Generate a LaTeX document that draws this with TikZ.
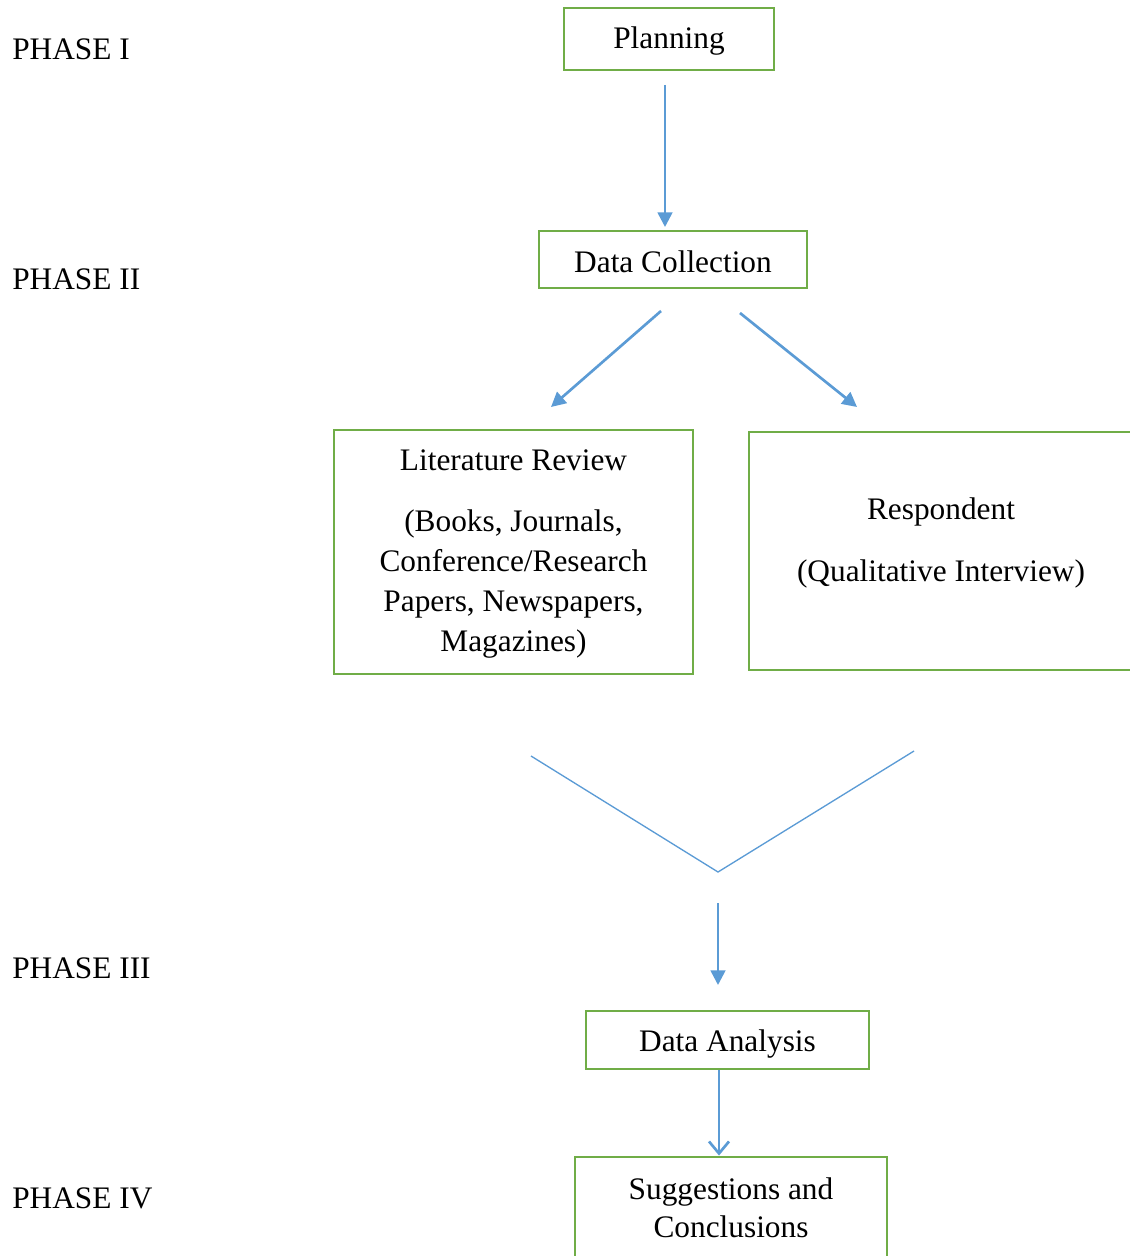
\documentclass[tikz,border=0pt]{standalone}
\usepackage{fontspec}
\setmainfont{Liberation Serif}
\usetikzlibrary{arrows.meta}
\definecolor{boxgreen}{HTML}{70AD47}
\definecolor{arrblue}{HTML}{5B9BD5}
\begin{document}
\begin{tikzpicture}[x=0.75pt,y=-0.75pt,
  every node/.style={font=\fontsize{23.5}{30}\selectfont},
  stepbox/.style={draw=boxgreen,line width=2.2pt,inner sep=0pt,fill=none},
  txt/.style={inner sep=0pt,align=center},
  phase/.style={inner sep=0pt,anchor=west},
  flow/.style={draw=arrblue,line width=2pt,-{Triangle[length=11pt,width=11pt]}},
  openflow/.style={draw=arrblue,line width=2pt,-{Straight Barb[length=9pt,width=15pt,line width=2pt]}},
  vline/.style={draw=arrblue,line width=1pt}]
\useasboundingbox (0,0) rectangle (1130,1256);
\clip (0,0) rectangle (1130,1256);

% phase labels
\node[phase] (p1) at (12,49) {PHASE I};
\node[phase] (p2) at (12,279) {PHASE II};
\node[phase] (p3) at (12,968) {PHASE III};
\node[phase] (p4) at (12,1198) {PHASE IV};

% boxes
\node[stepbox,minimum width=210*0.75pt,minimum height=62*0.75pt] (plan) at (669,39) {};
\node[txt] (plantext) at (669,41) {Planning};
\node[stepbox,minimum width=268*0.75pt,minimum height=57*0.75pt] (dc) at (673,259.5) {};
\node[txt] (dctext) at (673,261.5) {Data Collection};
\node[stepbox,minimum width=359*0.75pt,minimum height=244*0.75pt] (lit) at (513.5,552) {};
\node[txt] (littext) at (513.5,554)
  {Literature Review\\[16pt](Books, Journals,\\Conference/Research\\Papers, Newspapers,\\Magazines)};
\node[stepbox,minimum width=400*0.75pt,minimum height=238*0.75pt] (resp) at (949,551) {};
\node[txt] (resptext) at (941,543) {Respondent\\[16.5pt](Qualitative Interview)};
\node[stepbox,minimum width=283*0.75pt,minimum height=58*0.75pt] (da) at (727.5,1040) {};
\node[txt] (datext) at (727.5,1044) {Data Analysis};
\node[stepbox,minimum width=312*0.75pt,minimum height=108*0.75pt] (sc) at (731,1211) {};
\node[txt] (sctext) at (731,1208) {Suggestions and\\[-1.5pt]Conclusions};

% connector end points
\coordinate (a1s) at (665,85);
\coordinate (a1e) at (665,227);
\coordinate (als) at (661,311);
\coordinate (ale) at (551,407);
\coordinate (ars) at (740,313);
\coordinate (are) at (857,407);
\coordinate (vl) at (531,756);
\coordinate (vm) at (718,872);
\coordinate (vr) at (914,751);
\coordinate (a3s) at (718,903);
\coordinate (a3e) at (718,985);

\draw[flow] (a1s) -- (a1e);
\draw[flow] (als) -- (ale);
\draw[flow] (ars) -- (are);
\draw[vline] (vl) -- (vm) -- (vr);
\draw[flow] (a3s) -- (a3e);
\draw[openflow] (da.south -| 719,0) -- (sc.north -| 719,0);
\end{tikzpicture}
\end{document}
